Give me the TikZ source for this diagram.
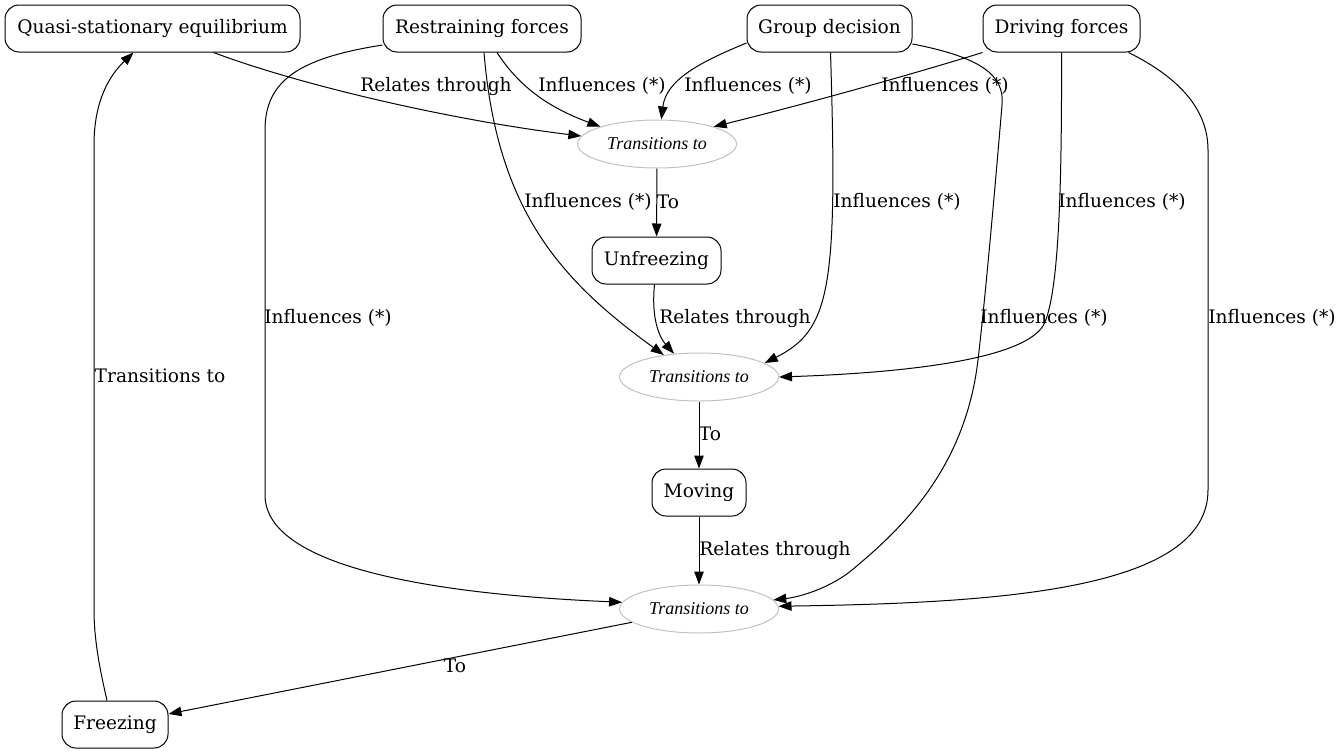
\documentclass[tikz,border=0pt]{standalone}
\usepackage{fontspec}
\setmainfont{DejaVu Serif}
\newfontfamily\ellfont{Liberation Serif}
\usetikzlibrary{arrows.meta,shapes.geometric}
\definecolor{ellgray}{HTML}{C0C0C0}
\begin{document}
\begin{tikzpicture}[x=1pt,y=-1pt,
  txt/.style={font=\fontsize{18.6}{22}\selectfont},
  box/.style={txt,draw,line width=1pt,rounded corners=14pt,minimum height=47pt,inner sep=0pt},
  ell/.style={ellipse,draw=ellgray,line width=1pt,minimum width=159pt,minimum height=48pt,inner sep=0pt,font=\ellfont\itshape\fontsize{18}{22}\selectfont},
  lbl/.style={txt,inner sep=0pt},
  conn/.style={line width=1pt,-{Triangle[length=13pt,width=9.5pt]}}]
\useasboundingbox (0,0) rectangle (1341,755);
% nodes
\node[box,minimum width=295pt] (qse) at (152.5,28.5) {Quasi-stationary equilibrium};
\node[box,minimum width=198pt] (restr) at (482,28.5) {Restraining forces};
\node[box,minimum width=165pt] (gd) at (829.5,28.5) {Group decision};
\node[box,minimum width=157pt] (df) at (1061.5,28.5) {Driving forces};
\node[ell] (e1) at (657,144) {Transitions to};
\node[box,minimum width=129pt] (unf) at (656.5,260.5) {Unfreezing};
\node[ell] (e2) at (699,377) {Transitions to};
\node[box,minimum width=94pt] (mov) at (699,492.5) {Moving};
\node[ell] (e3) at (699,609) {Transitions to};
\node[box,minimum width=106pt] (frz) at (115,724.5) {Freezing};
% connectors into e1
\draw[conn] ([xshift=61pt]qse.south) .. controls (300,85) and (450,120) .. (e1.174);
\draw[conn] ([xshift=15pt]restr.south) .. controls (520,88) and (550,108) .. (e1.163);
\draw[conn] ([yshift=-14.5pt]gd.west) .. controls (700,62) and (666,80) .. (e1.80);
\draw[conn] (df.south west) .. controls (900,78) and (790,108) .. (e1.17);
\draw[conn] (e1) -- (unf);
% connectors into e2
\draw[conn] ([xshift=2pt]restr.south) .. controls (497,210) and (560,280) .. (e2.148);
\draw[conn] ([xshift=-2pt]unf.south) .. controls (651,320) and (660,338) .. (e2.137);
\draw[conn] ([xshift=1pt]gd.south) .. controls (838,290) and (830,330) .. (e2.12);
\draw[conn] (df.south) .. controls (1062,200) and (1058,290) .. (1045,322) .. controls (1030,360) and (900,373) .. (e2.0);
\draw[conn] (e2) -- (mov);
% connectors into e3
\draw[conn] ([yshift=-16.5pt]restr.west) .. controls (300,58) and (265,80) .. (265,130) -- (265,495) .. controls (265,580) and (500,597) .. (e3.175);
\draw[conn] ([yshift=-15.5pt]gd.east) .. controls (980,57) and (1005,75) .. (1002,105) .. controls (994,200) and (985,300) .. (978,360) .. controls (965,470) and (900,530) .. (852,570) .. controls (830,588) and (800,597) .. (e3.7);
\draw[conn] ([xshift=-12pt]df.south east) .. controls (1180,78) and (1208,110) .. (1208,150) -- (1208,490) .. controls (1208,590) and (1000,603) .. (e3.2);
\draw[conn] (mov) -- (e3);
% out of e3
\draw[conn] (e3) -- (frz);
\draw[conn] ([xshift=-8pt]frz.north) .. controls (100,670) and (94,640) .. (94,610) -- (94,145) .. controls (94,100) and (110,75) .. ([xshift=-19pt]qse.south);
% labels
\node[lbl] (l1) at (436,86) {Relates through};
\node[lbl] (l2) at (602,86) {Influences (*)};
\node[lbl] (l3) at (748,86) {Influences (*)};
\node[lbl] (l4) at (945,86) {Influences (*)};
\node[lbl] (l5) at (668,202) {To};
\node[lbl] (l6) at (588,202) {Influences (*)};
\node[lbl] (l7) at (897,202) {Influences (*)};
\node[lbl] (l8) at (1122,202) {Influences (*)};
\node[lbl] (l9) at (735,318) {Relates through};
\node[lbl] (l10) at (328,318) {Influences (*)};
\node[lbl] (l11) at (1044,318) {Influences (*)};
\node[lbl] (l12) at (1272,318) {Influences (*)};
\node[lbl] (l13) at (160,376) {Transitions to};
\node[lbl] (l14) at (710,434) {To};
\node[lbl] (l15) at (775,550) {Relates through};
\node[lbl] (l16) at (455,666) {To};
\end{tikzpicture}
\end{document}
